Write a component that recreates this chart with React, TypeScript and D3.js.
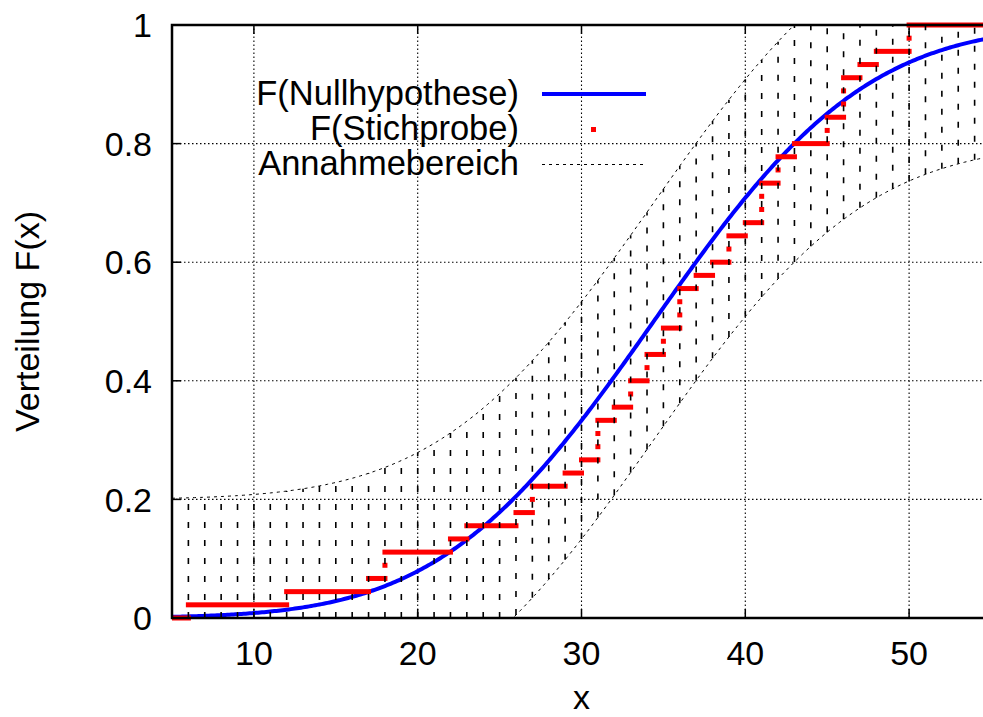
import * as d3 from "d3";

// sorted sample (Stichprobe), n = 45
const sample = [
  6, 12, 17, 18, 18, 22, 23, 26, 27, 27, 29, 30, 31, 31, 31, 32, 33, 33, 34, 34,
  35, 35, 36, 36, 36, 37, 38, 39, 39, 40, 41, 41, 41, 42, 42, 43, 45, 45, 46, 46,
  46, 47, 48, 50, 50,
];

// null hypothesis: normal distribution, KS band half-width
const mu = 34.4;
const sigma = 10.2;
const dCrit = 0.2;

const xDomain = [5, 55];
const xTicks = [10, 20, 30, 40, 50];
const yTicks = [0, 0.2, 0.4, 0.6, 0.8, 1];
const yTickLabels = ["0", "0.2", "0.4", "0.6", "0.8", "1"];
const legendLabels = ["F(Nullhypothese)", "F(Stichprobe)", "Annahmebereich"];

const W = 983;
const H = 717;
const FONT = "'Liberation Sans', Arial, sans-serif";

function erf(x: number) {
  const s = x < 0 ? -1 : 1;
  const a = Math.abs(x);
  const t = 1 / (1 + 0.3275911 * a);
  const y =
    1 -
    ((((1.061405429 * t - 1.453152027) * t + 1.421413741) * t - 0.284496736) * t +
      0.254829592) *
      t *
      Math.exp(-a * a);
  return s * y;
}
const cdf = (x: number) => 0.5 * (1 + erf((x - mu) / (sigma * Math.SQRT2)));

export default function App() {
  const x = d3.scaleLinear().domain(xDomain).range([172, 991]);
  const y = d3.scaleLinear().domain([0, 1]).range([618, 25]);
  const n = sample.length;

  const xs = d3.range(0, 401).map((i) => xDomain[0] + (i * (xDomain[1] - xDomain[0])) / 400);
  const line = d3
    .line<number>()
    .x((v) => x(v))
    .y((v) => y(cdf(v)));
  const upper = d3
    .line<number>()
    .x((v) => x(v))
    .y((v) => y(Math.min(1, cdf(v) + dCrit)));
  const lower = d3
    .line<number>()
    .x((v) => x(v))
    .y((v) => y(Math.max(0, cdf(v) - dCrit)));

  // hatching of the acceptance band at every integer x
  const hatch = d3.range(xDomain[0] + 1, xDomain[1] + 1);

  // ECDF steps
  const steps = d3.range(0, n + 1).map((k) => ({
    x0: k === 0 ? xDomain[0] : sample[k - 1],
    x1: k === n ? xDomain[1] : sample[k],
    level: k / n,
  }));

  const left = 172;
  const right = 991;
  const top = 25;
  const bottom = 618;

  return (
    <div style={{ position: "absolute", left: 0, top: 0, width: W, height: H, overflow: "hidden", background: "#fff" }}>
      <svg width={W} height={H} style={{ display: "block" }} fontFamily={FONT}>
        <defs>
          <clipPath id="plot">
            <rect x={left} y={top - 4} width={right - left} height={bottom - top + 8} />
          </clipPath>
        </defs>
        <rect width={W} height={H} fill="#fff" />

        {/* grid */}
        <g stroke="#000" strokeWidth={1.1} strokeDasharray="1.5,2.5">
          {xTicks.map((t) => (
            <line key={"gx" + t} x1={x(t)} x2={x(t)} y1={bottom} y2={top} />
          ))}
          {yTicks.slice(1, -1).map((t) => (
            <line key={"gy" + t} x1={left} x2={right} y1={y(t)} y2={y(t)} />
          ))}
        </g>

        {/* tick marks */}
        <g stroke="#000" strokeWidth={1.5}>
          {xTicks.map((t) => (
            <g key={"tx" + t}>
              <line x1={x(t)} x2={x(t)} y1={bottom} y2={bottom - 9} />
              <line x1={x(t)} x2={x(t)} y1={top} y2={top + 9} />
            </g>
          ))}
          {yTicks.map((t) => (
            <line key={"ty" + t} x1={left} x2={left + 9} y1={y(t)} y2={y(t)} />
          ))}
        </g>

        <g clipPath="url(#plot)">
          {/* F(Nullhypothese) */}
          <path d={line(xs) ?? ""} fill="none" stroke="#0000ff" strokeWidth={4} />

          {/* F(Stichprobe) */}
          <g fill="#ff0000">
            {steps.map((s, i) => (
              <rect
                key={"s" + i}
                x={x(s.x0) - (i === 0 ? 0 : 2.5)}
                y={y(s.level) - 2.5}
                width={x(s.x1) - x(s.x0) + (i === 0 ? 2.5 : 5)}
                height={5}
              />
            ))}
          </g>

          {/* Annahmebereich */}
          <g stroke="#000" fill="none">
            {hatch.map((h) => (
              <line
                key={"h" + h}
                x1={x(h)}
                x2={x(h)}
                y1={y(Math.max(0, cdf(h) - dCrit))}
                y2={y(Math.min(1, cdf(h) + dCrit))}
                strokeWidth={1.6}
                strokeDasharray="6,12"
              />
            ))}
            <path d={upper(xs) ?? ""} strokeWidth={1} strokeDasharray="3,4" />
            <path d={lower(xs) ?? ""} strokeWidth={1} strokeDasharray="3,4" />
          </g>
        </g>

        {/* border */}
        <path
          d={`M${right + 5},${top} H${left} V${bottom} H${right + 5}`}
          fill="none"
          stroke="#000"
          strokeWidth={2.5}
        />

        {/* tick labels */}
        <g fontSize={34} fill="#000">
          {yTicks.map((t, i) => (
            <text key={"ly" + t} x={152} y={y(t)} dy="0.36em" textAnchor="end">
              {yTickLabels[i]}
            </text>
          ))}
          {xTicks.map((t) => (
            <text key={"lx" + t} x={x(t)} y={665} textAnchor="middle">
              {t}
            </text>
          ))}
          <text x={x(30)} y={709} textAnchor="middle">
            x
          </text>
          <text transform={`translate(39,${(top + bottom) / 2}) rotate(-90)`} textAnchor="middle">
            Verteilung F(x)
          </text>
        </g>

        {/* legend */}
        <g fontSize={34.5} fill="#000" textAnchor="end">
          {legendLabels.map((l, i) => (
            <text key={l} x={519} y={105 + i * 35}>
              {l}
            </text>
          ))}
        </g>
        <line x1={542} x2={646} y1={94} y2={94} stroke="#0000ff" strokeWidth={4} />
        <rect x={591} y={127} width={5} height={5} fill="#ff0000" />
        <line x1={542} x2={644} y1={164.5} y2={164.5} stroke="#000" strokeWidth={1} strokeDasharray="3,4" />
      </svg>
    </div>
  );
}
